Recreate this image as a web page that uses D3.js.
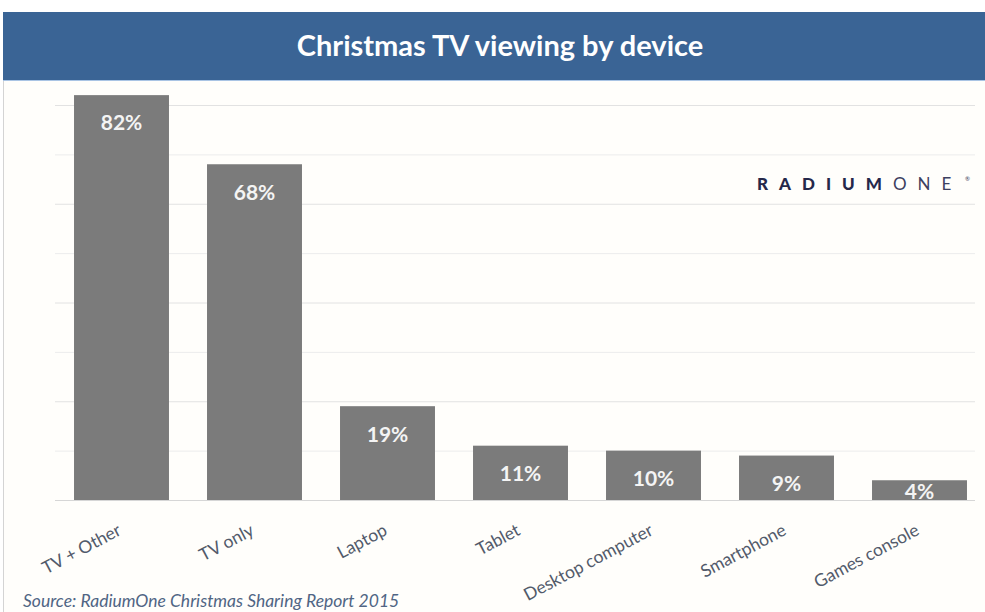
<!DOCTYPE html>
<html>
<head>
<meta charset="utf-8">
<script src="https://cdn.jsdelivr.net/npm/d3@7"></script>
<style>
  html, body { margin: 0; padding: 0; background: #fff; }
  svg { display: block; }
</style>
</head>
<body>
<div id="chart"></div>
<script>
/* ---- data ---- */
const devices = ["TV + Other", "TV only", "Laptop", "Tablet", "Desktop computer", "Smartphone", "Games console"];
const shares = [82, 68, 19, 11, 10, 9, 4];
const gridTicks = [0, 10, 20, 30, 40, 50, 60, 70, 80];

const titleText = "Christmas TV viewing by device";
const sourceText = "Source: RadiumOne Christmas Sharing Report 2015";

/* ---- setup ---- */
const W = 985, H = 612;
const FONT = "Lato, 'Open Sans', sans-serif";

const svg = d3.select("#chart").append("svg")
  .attr("width", W)
  .attr("height", H);

// panel background + left edge
svg.append("rect")
  .attr("x", 3).attr("y", 12)
  .attr("width", W - 3).attr("height", H - 12)
  .attr("fill", "#fffefb");
svg.append("line")
  .attr("x1", 3.5).attr("x2", 3.5)
  .attr("y1", 12).attr("y2", H)
  .attr("stroke", "#d4d4d4");

// title bar
svg.append("rect")
  .attr("x", 3).attr("y", 12)
  .attr("width", W - 3).attr("height", 68)
  .attr("fill", "#3a6495");
svg.append("line")
  .attr("x1", 3).attr("x2", W)
  .attr("y1", 80.5).attr("y2", 80.5)
  .attr("stroke", "#a9c4e4");

svg.append("text")
  .attr("x", 500).attr("y", 56)
  .attr("text-anchor", "middle")
  .attr("fill", "#fff")
  .style("font-family", FONT)
  .style("font-weight", "bold")
  .style("font-size", "29px")
  .text(titleText);

/* ---- scales ---- */
const x = d3.scaleBand()
  .domain(devices)
  .range([55, 986])
  .paddingInner(0.286)
  .paddingOuter(0.143);

const y = d3.scaleLinear()
  .domain([0, 80])
  .range([500, 105]);

/* ---- gridlines ---- */
const grid = svg.append("g")
  .attr("transform", "translate(55,0)")
  .call(d3.axisLeft(y).tickValues(gridTicks).tickSize(-920).tickFormat(""));
grid.select(".domain").remove();
grid.selectAll(".tick line")
  .attr("stroke", (d, i) => i % 2 ? "#ececec" : "#e2e2e2");
grid.selectAll(".tick").filter(d => d === 0).select("line").attr("stroke", "#d6d6d6");

/* ---- bars ---- */
const data = devices.map((d, i) => ({ device: d, value: shares[i] }));

svg.append("g").selectAll("rect")
  .data(data)
  .enter()
  .append("rect")
  .attr("x", d => x(d.device))
  .attr("y", d => y(d.value))
  .attr("width", x.bandwidth())
  .attr("height", d => y(0) - y(d.value))
  .attr("fill", "#7b7b7b");

// value labels inside the top of each bar
svg.append("g").selectAll("text")
  .data(data)
  .enter()
  .append("text")
  .attr("x", d => x(d.device) + x.bandwidth() / 2)
  .attr("y", d => Math.min(y(d.value) + 28, y(0) - 8))
  .attr("dy", "0.35em")
  .attr("text-anchor", "middle")
  .attr("fill", "#f4f4f4")
  .style("font-family", FONT)
  .style("font-weight", "bold")
  .style("font-size", "21px")
  .text(d => d.value + "%");

/* ---- category labels (rotated) ---- */
svg.append("g").selectAll("text")
  .data(devices)
  .enter()
  .append("text")
  .attr("transform", d => `translate(${x(d) + x.bandwidth() / 2 - 5}, 523) rotate(-28)`)
  .attr("dy", "0.71em")
  .attr("text-anchor", "end")
  .attr("fill", "#525a6a")
  .style("font-family", FONT)
  .style("font-size", "17.5px")
  .text(d => d);

/* ---- logo ---- */
const logo = svg.append("text")
  .attr("x", 757).attr("y", 190)
  .style("font-family", FONT)
  .style("font-size", "17px")
  .style("letter-spacing", "11px");
logo.append("tspan").attr("fill", "#25284a").style("font-weight", "900").text("RADIUM");
logo.append("tspan").attr("fill", "#3d4060").style("font-weight", "normal").text("ONE");

svg.append("text")
  .attr("x", 965).attr("y", 181)
  .attr("fill", "#3d4060")
  .style("font-family", FONT)
  .style("font-size", "6px")
  .text("®");

/* ---- source ---- */
svg.append("text")
  .attr("x", 23).attr("y", 607)
  .attr("fill", "#506584")
  .style("font-family", FONT)
  .style("font-style", "italic")
  .style("font-size", "17.5px")
  .text(sourceText);
</script>
</body>
</html>
